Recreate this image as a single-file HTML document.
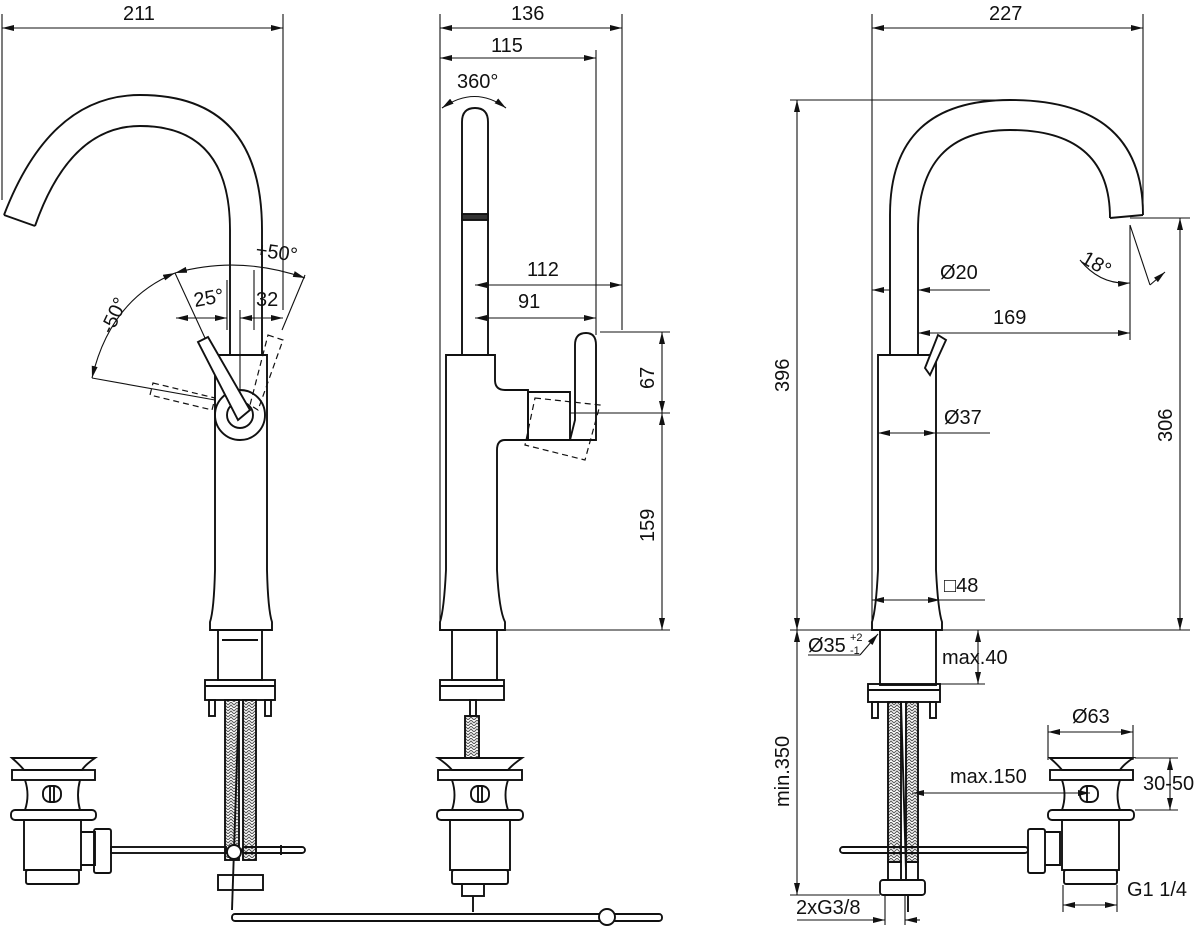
<!DOCTYPE html>
<html><head><meta charset="utf-8"><style>
html,body{margin:0;padding:0;background:#fff}
svg{display:block}
text{font-family:"Liberation Sans",sans-serif;font-size:20px;fill:#111}
</style></head><body>
<svg width="1200" height="930" viewBox="0 0 1200 930" xmlns="http://www.w3.org/2000/svg">
<defs>
<marker id="a" viewBox="0 0 12 6" refX="12" refY="3" markerWidth="12" markerHeight="6" orient="auto-start-reverse" markerUnits="userSpaceOnUse"><path d="M0,0L12,3L0,6z" fill="#111"/></marker>
<pattern id="h" width="6" height="6" patternUnits="userSpaceOnUse"><path d="M0,3L3,0L6,3M0,6L3,3L6,6" stroke="#555" stroke-width="1" fill="none"/></pattern>
</defs>
<g stroke="#111" stroke-width="1.1" fill="none">
<!-- LEFT VIEW dims -->
<line x1="2" y1="14" x2="2" y2="200"/><line x1="283" y1="14" x2="283" y2="310"/>
<line x1="2" y1="28" x2="283" y2="28" marker-start="url(#a)" marker-end="url(#a)"/>
<line x1="227" y1="280" x2="227" y2="330"/><line x1="254" y1="270" x2="254" y2="330"/>
<line x1="176" y1="318" x2="227" y2="318" marker-start="url(#a)" marker-end="url(#a)"/>
<line x1="240" y1="318" x2="283" y2="318" marker-start="url(#a)" marker-end="url(#a)"/>
<line x1="240" y1="310" x2="240" y2="410"/>
<path d="M175,273 Q240,255 305,278" marker-start="url(#a)" marker-end="url(#a)"/>
<path d="M92,378 Q110,300 175,273" marker-start="url(#a)" marker-end="url(#a)"/>
<line x1="175" y1="273" x2="205" y2="338"/><line x1="305" y1="275" x2="282" y2="330"/>
<line x1="92" y1="378" x2="215" y2="400"/>
<!-- left spout -->
<g stroke-width="1.9">
<path d="M4,215 Q50,95 140,95 Q262,95 262,230 L262,355"/>
<path d="M35,226 Q70,126 140,126 Q230,126 230,230 L230,355"/>
<line x1="4" y1="215" x2="35" y2="226"/>
<path d="M215,355 L267,355 L267,570 Q268,610 272,622 L272,630 L210,630 L210,622 Q214,610 215,570 Z"/>
<circle cx="240" cy="415" r="25"/><circle cx="240" cy="415" r="13"/>
<path d="M198,342 L208,337 L250,410 L238,420 Z" fill="#fff"/>
<rect x="218" y="630" width="44" height="50"/><line x1="222" y1="640" x2="258" y2="640"/>
<rect x="205" y="680" width="70" height="20"/><line x1="205" y1="686" x2="275" y2="686"/>
<rect x="209" y="700" width="6" height="16"/><rect x="265" y="700" width="6" height="16"/>
<rect x="225" y="700" width="14" height="160" fill="url(#h)"/><rect x="243" y="700" width="13" height="160" fill="url(#h)"/>
<line x1="239" y1="700" x2="232" y2="910"/>
<rect x="218" y="875" width="45" height="15"/>
<circle cx="234" cy="852" r="7" fill="#fff"/>
<!-- left drain -->
<path d="M12,758 L95,758 Q85,765 82,770 L24,770 Q20,765 12,758 Z"/>
<rect x="12" y="770" width="83" height="10"/>
<path d="M25,780 Q30,795 25,810 L80,810 Q76,795 80,780"/>
<rect x="43" y="786" width="18" height="16" rx="7"/><line x1="50" y1="786" x2="50" y2="802"/><line x1="54" y1="786" x2="54" y2="802"/>
<rect x="11" y="810" width="85" height="10" rx="4"/>
<rect x="24" y="820" width="57" height="50"/><rect x="26" y="870" width="53" height="14" rx="2"/>
<path d="M81,832 L95,832 L95,865 L81,865"/>
<rect x="94" y="829" width="17" height="44" rx="2"/>
<rect x="111" y="847" width="115" height="6"/><rect x="242" y="847" width="63" height="6" rx="3"/>
<line x1="281" y1="845" x2="281" y2="855"/>
<rect x="232" y="914" width="430" height="7" rx="3"/><circle cx="607" cy="917" r="8" fill="#fff"/>
</g>
<g stroke-dasharray="6,4" stroke-width="1.2">
<path d="M153,383 L215,398 L212,410 L150,395 Z"/>
<path d="M268,335 L283,340 L258,410 L250,405 Z"/>
</g>

<!-- MIDDLE VIEW -->
<line x1="440" y1="14" x2="440" y2="630"/><line x1="622" y1="14" x2="622" y2="330"/><line x1="596" y1="50" x2="596" y2="335"/>
<line x1="440" y1="28" x2="622" y2="28" marker-start="url(#a)" marker-end="url(#a)"/>
<line x1="440" y1="58" x2="596" y2="58" marker-start="url(#a)" marker-end="url(#a)"/>
<path d="M442,108 Q475,85 506,108" marker-start="url(#a)" marker-end="url(#a)"/>
<line x1="475" y1="285" x2="622" y2="285" marker-start="url(#a)" marker-end="url(#a)"/>
<line x1="475" y1="318" x2="596" y2="318" marker-start="url(#a)" marker-end="url(#a)"/>
<line x1="600" y1="332" x2="670" y2="332"/><line x1="570" y1="413" x2="670" y2="413"/><line x1="505" y1="630" x2="670" y2="630"/>
<line x1="662" y1="332" x2="662" y2="413" marker-start="url(#a)" marker-end="url(#a)"/>
<line x1="662" y1="413" x2="662" y2="630" marker-start="url(#a)" marker-end="url(#a)"/>
<g stroke-width="1.9">
<path d="M462,355 L462,122 Q462,108 475,108 Q488,108 488,122 L488,355"/>
<rect x="462" y="214" width="26" height="6" fill="#333"/>
<path d="M446,355 L495,355 L495,380 Q495,390 505,390 L528,390 L528,440 L505,440 Q497,440 497,450 L497,570 Q499,610 505,622 L505,630 L440,630 L440,622 Q444,610 446,570 Z"/>
<path d="M528,392 L570,392 L570,440 L528,440 Z"/>
<path d="M575,345 Q575,333 586,333 Q596,333 596,345 L596,440 L570,440 L575,420 Z"/>
<rect x="452" y="630" width="45" height="50"/>
<rect x="440" y="680" width="64" height="20"/><line x1="440" y1="686" x2="504" y2="686"/>
<rect x="470" y="700" width="6" height="16"/>
<rect x="465" y="716" width="14" height="42" fill="url(#h)"/>
<path d="M438,758 L522,758 Q512,765 508,770 L452,770 Q448,765 438,758 Z"/>
<rect x="438" y="770" width="84" height="10"/>
<path d="M452,780 Q457,795 452,810 L508,810 Q503,795 508,780"/>
<rect x="471" y="786" width="18" height="16" rx="7"/><line x1="478" y1="786" x2="478" y2="802"/><line x1="482" y1="786" x2="482" y2="802"/>
<rect x="437" y="810" width="86" height="10" rx="4"/>
<rect x="450" y="820" width="60" height="50"/><rect x="452" y="870" width="56" height="14" rx="2"/>
<rect x="462" y="884" width="22" height="12"/><line x1="473" y1="896" x2="473" y2="912"/>
</g>
<g stroke-dasharray="6,4" stroke-width="1.2"><path d="M535,398 L600,405 L585,460 L525,445 Z"/></g>

<!-- RIGHT VIEW -->
<line x1="872" y1="14" x2="872" y2="630"/><line x1="1143" y1="14" x2="1143" y2="215"/>
<line x1="872" y1="28" x2="1143" y2="28" marker-start="url(#a)" marker-end="url(#a)"/>
<line x1="790" y1="100" x2="1010" y2="100"/><line x1="790" y1="630" x2="1190" y2="630"/>
<line x1="797" y1="100" x2="797" y2="630" marker-start="url(#a)" marker-end="url(#a)"/>
<line x1="1130" y1="218" x2="1190" y2="218"/>
<line x1="1180" y1="218" x2="1180" y2="630" marker-start="url(#a)" marker-end="url(#a)"/>
<line x1="1130" y1="225" x2="1150" y2="285"/><line x1="1130" y1="225" x2="1130" y2="340"/>
<path d="M1080,260 Q1100,285 1130,283" marker-end="url(#a)"/>
<line x1="1150" y1="285" x2="1165" y2="272" marker-end="url(#a)"/>
<line x1="872" y1="290" x2="890" y2="290" marker-start="url(#a)"/><line x1="918" y1="290" x2="990" y2="290" marker-start="url(#a)"/>
<line x1="918" y1="333" x2="1130" y2="333" marker-start="url(#a)" marker-end="url(#a)"/>
<line x1="878" y1="433" x2="936" y2="433" marker-start="url(#a)" marker-end="url(#a)"/><line x1="936" y1="433" x2="990" y2="433"/>
<line x1="872" y1="600" x2="940" y2="600" marker-start="url(#a)" marker-end="url(#a)"/><line x1="940" y1="600" x2="985" y2="600"/>
<line x1="797" y1="630" x2="797" y2="895" marker-start="url(#a)" marker-end="url(#a)"/>
<line x1="790" y1="895" x2="880" y2="895"/>
<line x1="808" y1="655" x2="860" y2="655"/><line x1="860" y1="655" x2="878" y2="634" marker-end="url(#a)"/>
<line x1="940" y1="684" x2="985" y2="684"/>
<line x1="978" y1="630" x2="978" y2="684" marker-start="url(#a)" marker-end="url(#a)"/>
<line x1="1048" y1="725" x2="1048" y2="760"/><line x1="1133" y1="725" x2="1133" y2="760"/>
<line x1="1048" y1="732" x2="1133" y2="732" marker-start="url(#a)" marker-end="url(#a)"/>
<line x1="1135" y1="758" x2="1178" y2="758"/><line x1="1135" y1="810" x2="1178" y2="810"/>
<line x1="1170" y1="758" x2="1170" y2="810" marker-start="url(#a)" marker-end="url(#a)"/>
<line x1="912" y1="793" x2="1090" y2="793" marker-start="url(#a)" marker-end="url(#a)"/>
<line x1="1063" y1="885" x2="1063" y2="912"/><line x1="1117" y1="885" x2="1117" y2="912"/>
<line x1="1063" y1="905" x2="1117" y2="905" marker-start="url(#a)" marker-end="url(#a)"/>
<line x1="885" y1="895" x2="885" y2="925"/><line x1="905" y1="895" x2="905" y2="925"/>
<line x1="797" y1="920" x2="885" y2="920" marker-end="url(#a)"/><line x1="905" y1="920" x2="920" y2="920" marker-start="url(#a)"/>
<g stroke-width="1.9">
<path d="M890,355 L890,215 Q890,100 1010,100 Q1143,100 1143,215"/>
<path d="M918,355 L918,230 Q918,130 1010,130 Q1110,130 1110,218"/>
<line x1="1110" y1="218" x2="1143" y2="215"/>
<path d="M878,355 L936,355 L936,570 Q938,610 942,622 L942,630 L872,630 L872,622 Q876,610 878,570 Z"/>
<path d="M925,368 L938,335 L946,340 L930,375 Z" fill="#fff"/>
<rect x="880" y="630" width="56" height="55"/>
<rect x="868" y="684" width="72" height="18"/><line x1="868" y1="690" x2="940" y2="690"/>
<rect x="872" y="702" width="6" height="16"/><rect x="930" y="702" width="6" height="16"/>
<rect x="888" y="702" width="13" height="160" fill="url(#h)"/><rect x="906" y="702" width="12" height="160" fill="url(#h)"/>
<line x1="901" y1="702" x2="906" y2="870"/>
<rect x="888" y="862" width="13" height="18"/><rect x="906" y="862" width="12" height="18"/>
<rect x="880" y="880" width="45" height="15" rx="3"/>
<line x1="908" y1="895" x2="908" y2="912"/>
<rect x="840" y="847" width="188" height="6" rx="3"/>
<rect x="1028" y="829" width="17" height="44" rx="2"/><path d="M1045,832 L1060,832 L1060,865 L1045,865"/>
<path d="M1050,758 L1133,758 Q1123,765 1120,770 L1062,770 Q1058,765 1050,758 Z"/>
<rect x="1050" y="770" width="83" height="10"/>
<path d="M1062,780 Q1067,795 1062,810 L1120,810 Q1115,795 1120,780"/>
<rect x="1080" y="786" width="18" height="16" rx="7"/><line x1="1087" y1="786" x2="1087" y2="802"/>
<rect x="1048" y="810" width="86" height="10" rx="4"/>
<rect x="1062" y="820" width="57" height="50"/><rect x="1064" y="870" width="53" height="14" rx="2"/>
</g>
</g>
<!-- TEXT -->
<text x="123" y="20">211</text>
<text x="255" y="256" transform="rotate(8 255 256)">+50°</text>
<text x="195" y="307" transform="rotate(-10 195 307)">25°</text>
<text x="256" y="306">32</text>
<text x="112" y="335" transform="rotate(-65 112 335)">-50°</text>
<text x="511" y="20">136</text>
<text x="491" y="52">115</text>
<text x="457" y="88">360°</text>
<text x="527" y="276">112</text>
<text x="518" y="308">91</text>
<text x="654" y="389" transform="rotate(-90 654 389)">67</text>
<text x="654" y="542" transform="rotate(-90 654 542)">159</text>
<text x="989" y="20">227</text>
<text x="789" y="392" transform="rotate(-90 789 392)">396</text>
<text x="1172" y="442" transform="rotate(-90 1172 442)">306</text>
<text x="1080" y="262" transform="rotate(30 1080 262)">18°</text>
<text x="940" y="279">Ø20</text>
<text x="993" y="324">169</text>
<text x="944" y="424">Ø37</text>
<text x="944" y="592">□48</text>
<text x="808" y="652">Ø35</text><text x="850" y="641" style="font-size:11px">+2</text><text x="850" y="654" style="font-size:11px">-1</text>
<text x="942" y="664">max.40</text>
<text x="789" y="807" transform="rotate(-90 789 807)">min.350</text>
<text x="1072" y="723">Ø63</text>
<text x="1143" y="790">30-50</text>
<text x="950" y="783">max.150</text>
<text x="1127" y="896">G1 1/4</text>
<text x="796" y="914">2xG3/8</text>
</svg>
</body></html>
